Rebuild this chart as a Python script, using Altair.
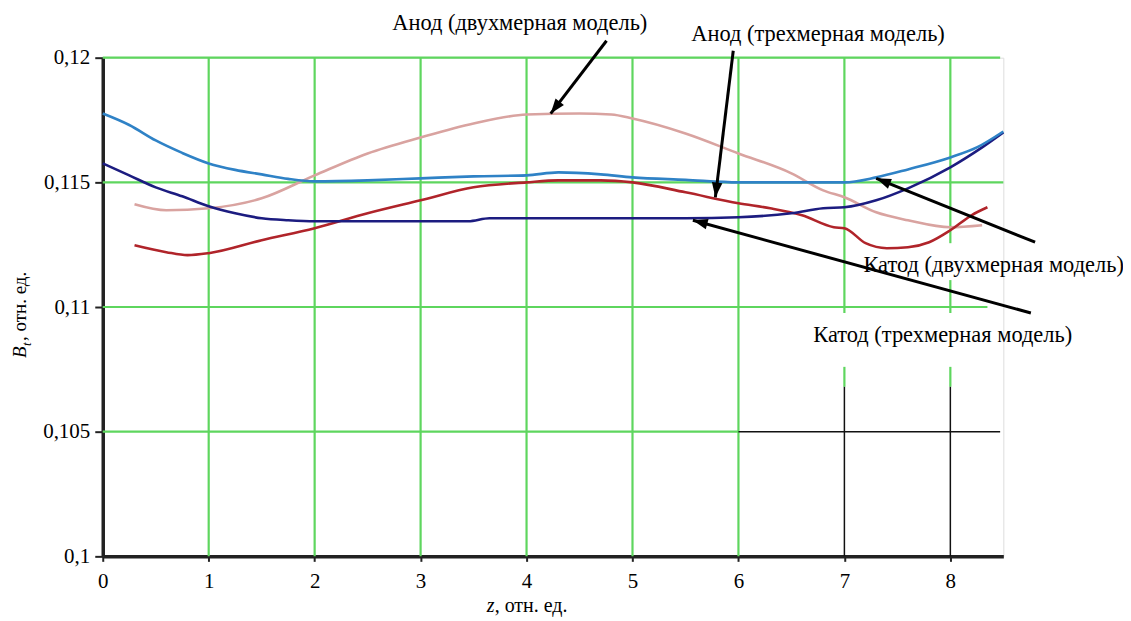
import altair as alt
import numpy as np
import pandas as pd

# ---------------- data ----------------
blue_z = [0, 0.25, 0.5, 0.75, 1.0, 1.25, 1.5, 1.75, 2.0, 2.5, 3.0, 3.5, 4.0, 4.3, 4.7, 5.0, 5.5, 6.0, 6.5, 7.0, 7.3, 7.6, 8.0, 8.25, 8.5]
blue_b = [0.11776, 0.1173, 0.11668, 0.11618, 0.11576, 0.1155, 0.11532, 0.11514, 0.11504, 0.11508, 0.11516, 0.11524, 0.11528, 0.1154, 0.11532, 0.1152, 0.1151, 0.115, 0.115, 0.115, 0.1152, 0.11552, 0.116, 0.1164, 0.11704]

navy_z = [0, 0.25, 0.5, 0.75, 1.0, 1.25, 1.5, 1.75, 2.0, 3.0, 3.45, 3.65, 4.5, 5.5, 6.0, 6.5, 6.8, 7.0, 7.3, 7.6, 8.0, 8.3, 8.5]
navy_b = [0.11576, 0.11528, 0.1148, 0.11444, 0.11404, 0.11376, 0.11356, 0.11348, 0.11344, 0.11344, 0.11344, 0.11356, 0.11356, 0.11356, 0.1136, 0.11376, 0.11396, 0.114, 0.11428, 0.11476, 0.1156, 0.1164, 0.117]

pink_z = [0.3, 0.6, 1.0, 1.5, 2.0, 2.5, 3.0, 3.5, 4.0, 4.5, 4.8, 5.0, 5.5, 6.0, 6.5, 6.8, 7.0, 7.3, 7.6, 8.0, 8.3]
pink_b = [0.11412, 0.11388, 0.11396, 0.11436, 0.11528, 0.11616, 0.1168, 0.11736, 0.11772, 0.11776, 0.11772, 0.11756, 0.11696, 0.11616, 0.11536, 0.11468, 0.1144, 0.1138, 0.11348, 0.1132, 0.11328]

red_z = [0.3, 0.6, 0.8, 1.0, 1.5, 2.0, 2.5, 3.0, 3.5, 4.0, 4.3, 4.7, 5.0, 5.5, 6.0, 6.3, 6.6, 6.9, 7.0, 7.2, 7.4, 7.6, 7.8, 8.0, 8.2, 8.35]
red_b = [0.11248, 0.1122, 0.11208, 0.11216, 0.11268, 0.11316, 0.11376, 0.11428, 0.1148, 0.115, 0.11508, 0.11508, 0.115, 0.1146, 0.11416, 0.11396, 0.11368, 0.1132, 0.11316, 0.11256, 0.11236, 0.1124, 0.1126, 0.11308, 0.11368, 0.114]

x_ticks = [0, 1, 2, 3, 4, 5, 6, 7, 8]
y_ticks = [0.1, 0.105, 0.11, 0.115, 0.12]

# gridline segments (as drawn in the source figure)
vg_x = [1, 2, 3, 4, 5, 6, 7, 7, 7, 8, 8, 8, 8]
vg_y1 = [0.1, 0.1, 0.1, 0.1, 0.1, 0.1, 0.10976, 0.1068, 0.1, 0.11256, 0.10976, 0.1068, 0.1]
vg_y2 = [0.12, 0.12, 0.12, 0.12, 0.12, 0.12, 0.12, 0.1076, 0.1068, 0.12, 0.11108, 0.1076, 0.1068]
vg_kind = ["g", "g", "g", "g", "g", "g", "g", "g", "k", "g", "g", "g", "k"]

hg_y = [0.12, 0.115, 0.11, 0.105, 0.105]
hg_x1 = [0, 0, 0, 0, 6]
hg_x2 = [8.47, 8.5, 8.35, 6, 8.47]
hg_kind = ["g", "g", "g", "g", "k"]

# annotations: labels and arrows (tail -> head)
lab_text = ["Анод (двухмерная модель)", "Анод (трехмерная модель)",
            "Катод (двухмерная модель)", "Катод (трехмерная модель)"]
lab_z = [3.936, 6.751, 8.409, 7.928]
lab_b = [0.1214, 0.12096, 0.11168, 0.10888]

arr_z1 = [4.755, 5.951, 8.80, 8.76]
arr_b1 = [0.12068, 0.12028, 0.1126, 0.10976]
arr_z2 = [4.228, 5.782, 7.30, 5.57]
arr_b2 = [0.11776, 0.1144, 0.11516, 0.11348]

# ---------------- layout ----------------
W, H = 903, 500
XD, YD = [0, 8.5], [0.1, 0.12]
FONT = "Times New Roman, Liberation Serif, DejaVu Serif, serif"
GREEN = "#5ed65e"

series = (["blue"] * len(blue_z) + ["navy"] * len(navy_z)
          + ["pink"] * len(pink_z) + ["red"] * len(red_z))
curves = pd.DataFrame({
    "z": blue_z + navy_z + pink_z + red_z,
    "B": blue_b + navy_b + pink_b + red_b,
    "s": series,
})

xs = alt.Scale(domain=XD, nice=False, zero=False)
ys = alt.Scale(domain=YD, nice=False, zero=False)

x_axis = alt.Axis(values=x_ticks, grid=False, title=None, labelFont=FONT, labelFontSize=21,
                  labelColor="black", domainColor="#222", domainWidth=3.5, tickColor="#222",
                  tickWidth=2, tickSize=5, labelPadding=9, labelFlush=False)
y_axis = alt.Axis(values=y_ticks, grid=False, title=None, labelFont=FONT, labelFontSize=21,
                  labelColor="black", domainColor="#222", domainWidth=3.5, tickColor="#222",
                  tickWidth=2, tickSize=8, labelPadding=5,
                  labelExpr="replace(format(datum.value, '.3~f'), '.', ',')")

vg = pd.DataFrame({"x": vg_x, "y1": vg_y1, "y2": vg_y2, "k": vg_kind})
vg["c"] = np.where(vg["k"] == "g", GREEN, "#111111")
vg["w"] = np.where(vg["k"] == "g", 2.2, 1.5)
hg = pd.DataFrame({"y": hg_y, "x1": hg_x1, "x2": hg_x2, "k": hg_kind})
hg["c"] = np.where(hg["k"] == "g", GREEN, "#111111")
hg["w"] = np.where(hg["k"] == "g", 2.2, 1.5)

vgrid = alt.Chart(vg).mark_rule().encode(
    x=alt.X("x:Q", scale=xs, axis=x_axis),
    y=alt.Y("y1:Q", scale=ys, axis=y_axis),
    y2="y2:Q",
    color=alt.Color("c:N", scale=None),
    strokeWidth=alt.StrokeWidth("w:Q", scale=None),
)
hgrid = alt.Chart(hg).mark_rule().encode(
    y=alt.Y("y:Q", scale=ys, axis=y_axis),
    x=alt.X("x1:Q", scale=xs, axis=x_axis),
    x2="x2:Q",
    color=alt.Color("c:N", scale=None),
    strokeWidth=alt.StrokeWidth("w:Q", scale=None),
)

lines = alt.Chart(curves).mark_line(strokeWidth=2.6, interpolate="monotone").encode(
    x=alt.X("z:Q", scale=xs, axis=x_axis),
    y=alt.Y("B:Q", scale=ys, axis=y_axis),
    color=alt.Color("s:N", scale=alt.Scale(domain=["pink", "red", "navy", "blue"],
                                           range=["#d9a3a0", "#b0242a", "#1c1c80", "#2f82c6"]),
                    legend=None),
    order=alt.Order("z:Q"),
    detail="s:N",
)
lines_layers = [
    lines.transform_filter(alt.datum.s == name) for name in ["pink", "red", "navy", "blue"]
]

arr = pd.DataFrame({"z1": arr_z1, "b1": arr_b1, "z2": arr_z2, "b2": arr_b2})
pxx, pxy = W / (XD[1] - XD[0]), H / (YD[1] - YD[0])
dx = (arr["z2"] - arr["z1"]) * pxx
dy = -(arr["b2"] - arr["b1"]) * pxy
arr["ang"] = (np.degrees(np.arctan2(dx, -dy)) + 360) % 360

arrow_lines = alt.Chart(arr).mark_rule(color="#000", strokeWidth=3).encode(
    x=alt.X("z1:Q", scale=xs, axis=x_axis),
    y=alt.Y("b1:Q", scale=ys, axis=y_axis),
    x2="z2:Q", y2="b2:Q",
)
arrow_heads = alt.Chart(arr).mark_point(
    shape="M0,0L-0.75,2.1L0.75,2.1Z", filled=True, color="#000", opacity=1, size=200,
).encode(
    x=alt.X("z2:Q", scale=xs, axis=x_axis),
    y=alt.Y("b2:Q", scale=ys, axis=y_axis),
    angle=alt.Angle("ang:Q", scale=None),
)

labs = pd.DataFrame({"t": lab_text, "z": lab_z, "B": lab_b})
labels = alt.Chart(labs).mark_text(font=FONT, fontSize=22.5, color="#000",
                                   align="center", baseline="middle").encode(
    x=alt.X("z:Q", scale=xs, axis=x_axis),
    y=alt.Y("B:Q", scale=ys, axis=y_axis),
    text="t:N",
)

# axis titles made of styled pieces
one = pd.DataFrame({"a": [0]})
def piece(txt, x, y, size, style="normal", angle=0, align="left"):
    return alt.Chart(one).mark_text(text=txt, font=FONT, fontSize=size, fontStyle=style,
                                    color="#000", angle=angle, align=align,
                                    baseline="alphabetic").encode(
        x=alt.value(x), y=alt.value(y))

titles = [
    piece("z", 385, 556, 20, "italic"),
    piece(", отн. ед.", 393, 556, 20),
    piece("B", -77, 301, 19, "italic", angle=270),
    piece("t", -72, 289, 13, "italic", angle=270),
    piece(", отн. ед.", -77, 284, 19, angle=270),
]

chart = alt.layer(
    vgrid, hgrid, *lines_layers, arrow_lines, arrow_heads, labels, *titles
).properties(
    width=W, height=H,
    autosize=alt.AutoSizeParams(type="none"),
    padding={"left": 95, "top": 49, "right": 120, "bottom": 62},
).configure_view(stroke=None).configure(background="white")

chart.save("out.html", embed_options={"renderer": "svg", "actions": False})
